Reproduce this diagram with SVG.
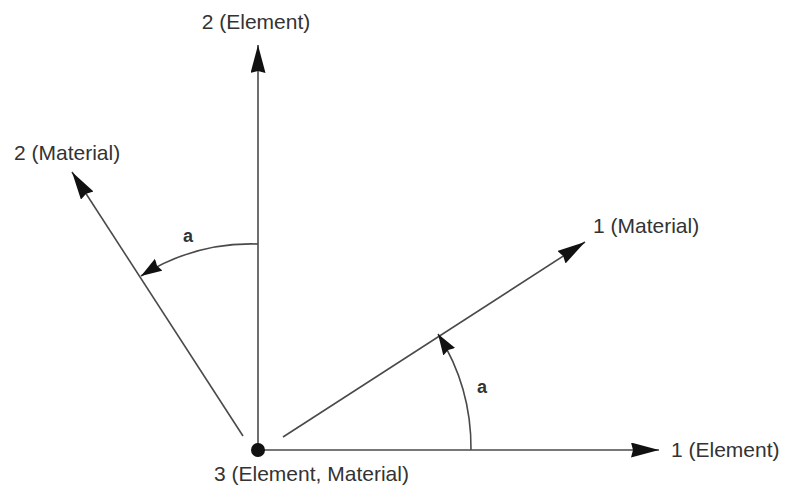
<svg xmlns="http://www.w3.org/2000/svg" width="787" height="492" viewBox="0 0 787 492">
<style>
.ax{stroke:#4a4a4a;stroke-width:1.6;fill:none}
.lbl{font-family:"Liberation Sans",Arial,sans-serif;font-size:21px;fill:#333}
.ang{font-family:"Liberation Sans",Arial,sans-serif;font-size:18px;font-weight:bold;fill:#333}
</style>
<defs>
<marker id="ah" markerUnits="userSpaceOnUse" markerWidth="30" markerHeight="18" refX="28" refY="7.5" orient="auto">
<path d="M0,0 L28,7.5 L0,15 L2,7.5 Z" fill="#111"/>
</marker>
<marker id="ahs" markerUnits="userSpaceOnUse" markerWidth="24" markerHeight="16" refX="21" refY="7" orient="auto">
<path d="M0,0 L21,7 L0,14 L2,7 Z" fill="#111"/>
</marker>
</defs>
<g id="connectors">
<line class="ax" x1="258" y1="450" x2="258" y2="45" marker-end="url(#ah)"/>
<line class="ax" x1="258" y1="450" x2="659" y2="450" marker-end="url(#ah)"/>
<line class="ax" x1="283" y1="437" x2="585" y2="242" marker-end="url(#ah)"/>
<line class="ax" x1="243" y1="436" x2="72" y2="172" marker-end="url(#ah)"/>
<path class="ax" d="M471,450 A213,213 0 0 0 438,334" marker-end="url(#ahs)"/>
<path class="ax" d="M258,244 A206,206 0 0 0 141,276" marker-end="url(#ahs)"/>
</g>
<g id="origin"><circle cx="258" cy="450" r="7" fill="#111"/></g>
<g id="label-e2"><text class="lbl" x="256" y="29" text-anchor="middle">2 (Element)</text></g>
<g id="label-m2"><text class="lbl" x="14" y="160">2 (Material)</text></g>
<g id="label-m1"><text class="lbl" x="593" y="233">1 (Material)</text></g>
<g id="label-e1"><text class="lbl" x="671" y="457">1 (Element)</text></g>
<g id="label-3"><text class="lbl" x="214" y="481">3 (Element, Material)</text></g>
<g id="angle-top"><text class="ang" x="183" y="242">a</text></g>
<g id="angle-bottom"><text class="ang" x="477" y="393">a</text></g>
</svg>
